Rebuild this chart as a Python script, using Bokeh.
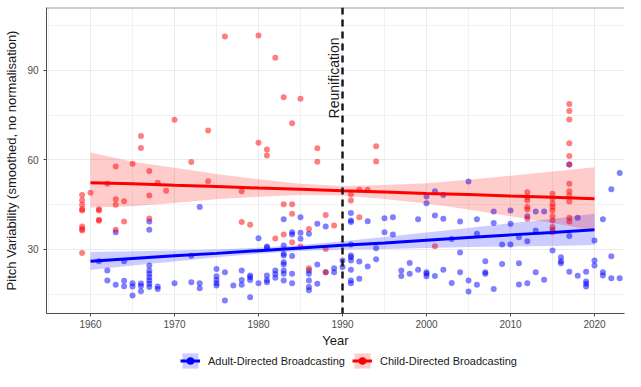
import math
from bokeh.plotting import figure
from bokeh.layouts import column
from bokeh.models import Range1d, FixedTicker, Span, Legend, LegendItem, ColumnDataSource
from bokeh.core.properties import value
from bokeh.embed import file_html
from bokeh.resources import INLINE

# ---------------- data ----------------
adult_year = (
    [1961] + [1962]*2 + [1963]*2 + [1964]*3 + [1965]*3 + [1966]*3 + [1967]*9 + [1968]*2 +
    [1970] + [1972]*2 + [1973]*3 + [1975]*5 + [1976]*2 + [1977] + [1978]*3 + [1979]*4 +
    [1980]*2 + [1981]*5 + [1982]*3 + [1983]*9 + [1984]*5 + [1985]*3 + [1986]*6 + [1987]*3 +
    [1988]*2 + [1989]*2 + [1990]*2 + [1991]*10 + [1992]*2 + [1993]*2 + [1994]*2 + [1995]*2 +
    [1996]*2 + [1997]*2 + [1998]*2 + [1999]*2 + [2000]*5 + [2001]*3 + [2002]*3 + [2003]*2 +
    [2004]*3 + [2005]*3 + [2006]*3 + [2007]*3 + [2008]*3 + [2009]*2 + [2010]*3 + [2011]*3 +
    [2012]*3 + [2013]*3 + [2014]*2 + [2015] + [2016]*3 + [2017]*3 + [2018]*2 + [2019]*4 +
    [2020]*3 + [2021]*3 + [2022]*3 + [2023]*2
)
adult_value = [
    26.1,
    23.0, 19.6,
    35.8, 18.2,
    26.1, 19.5, 17.7,
    18.7, 17.6, 14.6,
    18.6, 17.8, 16.0,
    39.4, 36.6, 24.6, 23.0, 21.9, 20.7, 19.6, 18.5, 17.4,
    17.6, 16.8,
    18.7,
    27.9, 19.0,
    44.2, 18.7, 17.0,
    23.5, 21.0, 19.8, 18.7, 17.9,
    22.4, 12.9,
    17.9,
    23.0, 19.8, 18.2,
    21.3, 20.7, 19.8, 14.0,
    33.8, 18.7,
    31.0, 30.6, 21.3, 19.8, 19.0,
    23.0, 21.8, 20.5,
    40.1, 31.3, 28.6, 28.0, 25.7, 25.0, 23.0, 21.9, 19.6,
    35.8, 35.0, 27.8, 21.9, 18.7,
    40.8, 35.6, 33.6,
    35.3, 23.0, 21.9, 19.6, 17.4, 16.3,
    38.6, 25.0, 18.5,
    37.7, 22.4,
    23.7, 22.4,
    26.3, 24.1,
    42.2, 39.7, 39.2, 31.7, 28.0, 27.4, 26.3, 23.2, 19.6, 18.7,
    26.0, 20.2,
    39.5, 24.3,
    30.4, 26.7,
    40.5, 35.8,
    40.8, 35.0,
    23.0, 21.1,
    25.5, 21.9,
    40.1, 23.2,
    47.8, 45.5, 22.4, 21.9, 21.0,
    49.5, 41.4, 21.1,
    48.3, 40.3, 23.2,
    33.5, 18.8,
    39.4, 29.0, 22.4,
    52.8, 19.6, 15.9,
    40.1, 35.3, 18.2,
    26.1, 22.4, 21.9,
    42.7, 38.9, 16.8,
    31.7, 25.1,
    43.1, 38.6, 31.7,
    34.1, 25.4, 18.3,
    41.1, 32.8, 18.7,
    42.7, 36.4, 22.4,
    42.7, 19.9,
    29.7,
    27.4, 26.1, 25.4,
    58.5, 34.5, 22.5,
    40.6, 21.2,
    22.5, 19.3, 18.5, 17.6,
    33.0, 26.3, 24.6,
    40.1, 22.4, 21.3,
    50.2, 27.7, 20.4,
    55.6, 20.4,
]

child_year = (
    [1959]*9 + [1960] + [1961]*4 + [1962] + [1963]*4 + [1964]*2 + [1965] + [1966]*2 +
    [1967]*3 + [1968] + [1969] + [1970] + [1972] + [1974]*2 + [1976] + [1978]*2 + [1979] +
    [1980]*2 + [1981]*2 + [1982]*2 + [1983]*3 + [1984]*4 + [1985]*2 + [1986]*2 + [1987]*2 +
    [1988]*3 + [1989] + [1991]*2 + [1992]*2 + [1993] + [1994]*2 + [2001] + [2012]*6 +
    [2015]*10 + [2017]*12
)
child_value = [
    48.3, 46.5, 45.0, 43.5, 43.1, 37.7, 36.9, 36.4, 28.8,
    49.0,
    43.5, 43.1, 40.0, 39.6,
    52.0,
    57.8, 46.8, 45.0, 36.6,
    46.2, 39.4,
    58.7,
    68.0, 64.0,
    56.3, 48.1, 40.4,
    52.4,
    49.7,
    73.5,
    59.3,
    69.9, 52.9,
    101.4,
    49.5, 39.2,
    38.3,
    101.7, 65.8,
    63.5, 61.5,
    94.3, 33.7,
    81.0, 45.2, 35.0,
    72.3, 45.2, 42.0, 32.4,
    80.5, 31.0,
    36.9, 23.7,
    63.9, 59.4,
    41.6, 30.2, 22.4,
    38.0,
    48.4, 46.4,
    50.0, 40.8,
    50.0,
    64.6, 59.5,
    31.1,
    49.2, 47.5, 46.4, 44.2, 43.4, 40.3,
    48.7, 47.0, 45.3, 44.2, 43.1, 41.1, 39.7, 37.5, 36.6, 35.8,
    78.8, 76.4, 73.6, 65.6, 61.3, 58.5, 52.0, 49.5, 48.1, 46.1, 40.6, 39.4,
]

# smoothed fits (lm) with confidence bands
band_year = [1960, 1965, 1970, 1975, 1980, 1985, 1990, 1995, 2000, 2005, 2010, 2015, 2020]
adult_fit = [26.1, 27.0, 27.9, 28.7, 29.6, 30.5, 31.4, 32.2, 33.1, 34.0, 34.9, 35.7, 36.6]
adult_lo = [23.1, 24.6, 26.0, 27.4, 28.6, 29.5, 30.0, 30.2, 30.5, 30.8, 31.0, 31.2, 31.5]
adult_hi = [29.2, 29.4, 29.7, 30.0, 30.6, 31.5, 32.8, 34.2, 35.7, 37.2, 38.8, 40.3, 42.0]
child_fit = [52.4, 52.0, 51.5, 51.1, 50.6, 50.2, 49.7, 49.3, 48.8, 48.4, 47.9, 47.5, 47.0]
child_lo = [44.1, 44.5, 45.6, 46.8, 47.7, 48.3, 48.1, 46.9, 45.4, 43.4, 41.1, 38.9, 36.4]
child_hi = [62.5, 59.4, 57.4, 55.3, 53.5, 52.0, 51.3, 51.6, 52.2, 53.4, 54.7, 56.1, 57.6]

reunification_year = 1990
reunification_label = "Reunification"
reunification_label_y = 87.5

x_ticks = [1960, 1970, 1980, 1990, 2000, 2010, 2020]
x_minor = [1955, 1965, 1975, 1985, 1995, 2005, 2015, 2025]
y_ticks = [30, 60, 90]
y_minor = [15, 45, 75, 105]

series_labels = ["Adult-Directed Broadcasting", "Child-Directed Broadcasting"]
series_colors = ["blue", "red"]

FONT = "Liberation Sans"

# ---------------- main figure ----------------
p = figure(
    width=625, height=350,
    x_range=Range1d(1954.76, 2023.57), y_range=Range1d(8.55, 111.1),
    output_backend="svg", toolbar_location=None,
    min_border_left=46, min_border_right=1, min_border_top=7, min_border_bottom=37,
    background_fill_color="white", border_fill_color="white",
)
p.outline_line_color = None

p.xaxis.ticker = FixedTicker(ticks=x_ticks, minor_ticks=x_minor)
p.yaxis.ticker = FixedTicker(ticks=y_ticks, minor_ticks=y_minor)
for ax in (p.below[0], p.left[0]):
    ax.axis_line_color = "#4d4d4d"
    ax.major_tick_line_color = "#4d4d4d"
    ax.major_tick_out = 3
    ax.major_tick_in = 0
    ax.minor_tick_line_color = None
    ax.major_label_text_font = FONT
    ax.major_label_text_font_size = "10px"
    ax.major_label_text_color = "#4d4d4d"
    ax.axis_label_text_font = FONT
    ax.axis_label_text_font_size = "13px"
    ax.axis_label_text_font_style = "normal"
    ax.axis_label_text_color = "#1a1a1a"
p.below[0].axis_label = "Year"
p.left[0].axis_label = "Pitch Variability (smoothed, no normalisation)"
p.below[0].major_label_standoff = 2
p.below[0].axis_label_standoff = 2
p.left[0].major_label_standoff = 4
p.left[0].axis_label_standoff = 5

for g in (p.xgrid, p.ygrid):
    g.grid_line_color = "#ebebeb"
    g.grid_line_width = 1.1
    g.minor_grid_line_color = "#efefef"
    g.minor_grid_line_width = 0.8

# thin grey top border of the panel
p.add_layout(Span(location=p.y_range.end, dimension="width", line_color="#9a9a9a",
                  line_width=2))

# points
p.scatter(adult_year, adult_value, size=6, fill_color=series_colors[0], fill_alpha=0.5,
          line_color=None)
p.scatter(child_year, child_value, size=6, fill_color=series_colors[1], fill_alpha=0.5,
          line_color=None)

# bands + fitted lines
p.varea(x=band_year, y1=adult_lo, y2=adult_hi, fill_color=series_colors[0], fill_alpha=0.2)
p.varea(x=band_year, y1=child_lo, y2=child_hi, fill_color=series_colors[1], fill_alpha=0.2)
p.line(band_year, adult_fit, line_color=series_colors[0], line_width=3)
p.line(band_year, child_fit, line_color=series_colors[1], line_width=3)

# reunification marker
p.add_layout(Span(location=reunification_year, dimension="height", line_color="#1a1a1a",
                  line_width=2.5, line_dash="7 5"))
p.text(x=[reunification_year], y=[reunification_label_y], text=[reunification_label],
       angle=math.pi / 2, text_align="center", text_baseline="middle", x_offset=-9,
       text_font=value(FONT), text_font_size="14px", text_color="#1a1a1a")

# ---------------- legend strip ----------------
lg = figure(
    width=625, height=21, x_range=Range1d(0, 1), y_range=Range1d(0, 1),
    output_backend="svg", toolbar_location=None,
    x_axis_location=None, y_axis_location=None,
    min_border_left=0, min_border_right=0, min_border_top=0, min_border_bottom=0,
    background_fill_color="white", border_fill_color="white",
)
lg.outline_line_color = None
lg.xgrid.visible = False
lg.ygrid.visible = False

nan = float("nan")
items = []
for label, col in zip(series_labels, series_colors):
    src = ColumnDataSource(data=dict(x=[nan], y=[nan], y1=[nan], y2=[nan]))
    r_band = lg.varea(x="x", y1="y1", y2="y2", source=src, fill_color=col, fill_alpha=0.2)
    r_line = lg.line("x", "y", source=src, line_color=col, line_width=3)
    r_dot = lg.scatter("x", "y", source=src, size=6, fill_color=col, line_color=None)
    items.append(LegendItem(label=label, renderers=[r_band, r_line, r_dot]))

legend = Legend(
    items=items, orientation="horizontal", location=(134, 1),
    glyph_width=20, glyph_height=19, label_standoff=8, spacing=7,
    padding=0, margin=0, border_line_color=None, background_fill_alpha=0,
    label_text_font=FONT, label_text_font_size="11px", label_text_color="#1a1a1a",
)
lg.add_layout(legend, "center")

layout = column(p, lg, spacing=0)

open("out.html", "w").write(file_html(layout, INLINE))
